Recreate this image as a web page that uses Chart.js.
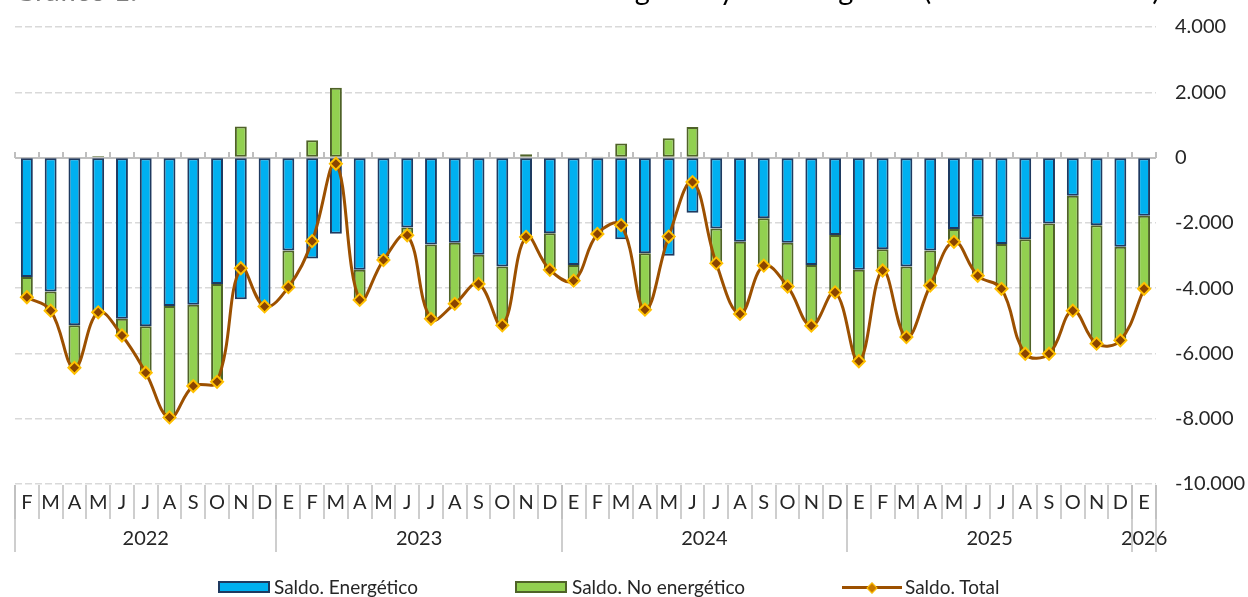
<!DOCTYPE html>
<html>
<head>
<meta charset="utf-8">
<script src="https://cdn.jsdelivr.net/npm/chart.js@4/dist/chart.umd.min.js"></script>
<style>
  html, body { margin: 0; padding: 0; background: #fff; }
  #wrap { position: relative; width: 1248px; height: 597px; overflow: hidden; font-family: Lato, sans-serif; color: #262626; }
  #chart { position: absolute; left: 0; top: 0; }
  .title { position: absolute; font-size: 29px; line-height: 29px; white-space: nowrap; }
  .title.num { left: 14px; top: -25px; color: #7f7f7f; }
  .title.txt { right: 88px; top: -26px; color: #000; }
  .leg { position: absolute; top: 577px; font-size: 19px; line-height: 20px; white-space: nowrap; }
  .box { position: absolute; top: 581px; width: 52px; height: 12px; box-sizing: border-box; }
  .lline { position: absolute; left: 842px; top: 586px; width: 60px; height: 3px; background: #9c5000; }
  .ldia { position: absolute; left: 868px; top: 584px; width: 6px; height: 6px; background: #c77800; border: 1.5px solid #ffc000; transform: rotate(45deg); }
</style>
</head>
<body>
<div id="wrap">
  <canvas id="chart" width="1248" height="597"></canvas>
  <div class="title num">Gráfico 1.</div>
  <div class="title txt">Saldo comercial energético y no energético (millones de euros)</div>
  <div class="box" style="left:218px;background:#00b0f0;border:2px solid #1f3a60"></div>
  <div class="leg" style="left:274px">Saldo. Energético</div>
  <div class="box" style="left:515px;background:#92d050;border:2px solid #4f6228"></div>
  <div class="leg" style="left:572px">Saldo. No energético</div>
  <div class="lline"></div><div class="ldia"></div>
  <div class="leg" style="left:905px">Saldo. Total</div>
</div>
<script>
const months = [
  'F','M','A','M','J','J','A','S','O','N','D',
  'E','F','M','A','M','J','J','A','S','O','N','D',
  'E','F','M','A','M','J','J','A','S','O','N','D',
  'E','F','M','A','M','J','J','A','S','O','N','D',
  'E'
];
const yearLabels = ['2022', '2023', '2024', '2025', '2026'];
const yearMonths = [11, 12, 12, 12, 1];

const energetico = [
  -3660, -4100, -5140, -4790, -4940, -5170, -4550, -4510, -3870, -4340, -4530,
  -2850, -3090, -2330, -3440, -3030, -2140, -2660, -2610, -2980, -3340, -2530, -2320,
  -3290, -2370, -2500, -2930, -3010, -1690, -2170, -2580, -1860, -2610, -3290, -2370,
  -3440, -2810, -3340, -2850, -2190, -1810, -2650, -2500, -2020, -1170, -2070, -2730,
  -1780
];
const noEnergetico = [
  -620, -590, -1300, 50, -510, -1420, -3410, -2490, -3000, 950, -30,
  -1120, 530, 2140, -920, -110, -240, -2280, -1870, -890, -1800, 100, -1120,
  -480, 30, 430, -1730, 590, 940, -1070, -2210, -1450, -1340, -1860, -1760,
  -2800, -650, -2160, -1070, -390, -1810, -1370, -3510, -3990, -3520, -3630, -2870,
  -2240
];
const total = [
  -4280, -4690, -6440, -4740, -5450, -6590, -7960, -7000, -6870, -3390, -4560,
  -3970, -2560, -190, -4360, -3140, -2380, -4940, -4480, -3870, -5140, -2430, -3440,
  -3770, -2340, -2070, -4660, -2420, -750, -3240, -4790, -3310, -3950, -5150, -4130,
  -6240, -3460, -5500, -3920, -2580, -3620, -4020, -6010, -6010, -4690, -5700, -5600,
  -4020
];

const fmt = v => (v < 0 ? '-' : '') + String(Math.abs(v)).replace(/\B(?=(\d{3})+(?!\d))/g, '.');

const excelAxis = {
  id: 'excelAxis',
  beforeDatasetsDraw(chart) {
    const {ctx, chartArea: a, scales: {x, y}} = chart;
    const y0 = Math.round(y.getPixelForValue(0));
    const step = x.getPixelForValue(1) - x.getPixelForValue(0);
    const start = x.getPixelForValue(0) - step / 2;
    ctx.save();
    ctx.strokeStyle = '#bfbfbf';
    ctx.lineWidth = 2;
    ctx.beginPath();
    ctx.moveTo(a.left, y0);
    ctx.lineTo(a.right, y0);
    for (let i = 0; i <= months.length; i++) {
      const bx = Math.round(start + i * step);
      ctx.moveTo(bx, y0);
      ctx.lineTo(bx, y0 - 6);
    }
    ctx.stroke();
    ctx.restore();
  },
  afterDraw(chart) {
    const {ctx, chartArea: a, scales: {x}} = chart;
    const step = x.getPixelForValue(1) - x.getPixelForValue(0);
    const start = x.getPixelForValue(0) - step / 2;
    const top = a.bottom + 1;
    ctx.save();
    ctx.strokeStyle = '#bfbfbf';
    ctx.lineWidth = 1.5;
    ctx.fillStyle = '#262626';
    ctx.font = '20px Lato';
    ctx.textAlign = 'center';
    ctx.textBaseline = 'middle';
    ctx.beginPath();
    for (let i = 0; i <= months.length; i++) {
      const bx = Math.round(start + i * step);
      ctx.moveTo(bx, top);
      ctx.lineTo(bx, top + 34);
    }
    ctx.stroke();
    months.forEach((m, i) => ctx.fillText(m, x.getPixelForValue(i), top + 18));

    let idx = 0;
    ctx.beginPath();
    yearLabels.forEach((yr, k) => {
      const x1 = start + idx * step;
      const x2 = start + (idx + yearMonths[k]) * step;
      ctx.moveTo(Math.round(x1), top);
      ctx.lineTo(Math.round(x1), top + 67);
      if (k === yearLabels.length - 1) {
        ctx.moveTo(Math.round(x2), top);
        ctx.lineTo(Math.round(x2), top + 67);
      }
      ctx.fillText(yr, (x1 + x2) / 2, top + 54);
      idx += yearMonths[k];
    });
    ctx.stroke();
    ctx.restore();
  }
};

new Chart(document.getElementById('chart'), {
  data: {
    labels: months,
    datasets: [
      {
        type: 'line',
        label: 'Saldo. Total',
        data: total,
        stack: 'total',
        order: 0,
        borderColor: '#9c5000',
        borderWidth: 3,
        tension: 0.4,
        fill: false,
        pointStyle: 'rectRot',
        pointRadius: 6,
        pointBackgroundColor: '#8b4500',
        pointBorderColor: '#ffc000',
        pointBorderWidth: 2
      },
      {
        type: 'bar',
        label: 'Saldo. Energético',
        data: energetico,
        stack: 'saldo',
        order: 1,
        backgroundColor: '#00b0f0',
        borderColor: '#1f3a60',
        borderWidth: 2,
        borderSkipped: false,
        barPercentage: 0.5,
        categoryPercentage: 1
      },
      {
        type: 'bar',
        label: 'Saldo. No energético',
        data: noEnergetico,
        stack: 'saldo',
        order: 1,
        backgroundColor: '#92d050',
        borderColor: '#4f6228',
        borderWidth: 2,
        borderSkipped: false,
        barPercentage: 0.5,
        categoryPercentage: 1
      }
    ]
  },
  options: {
    responsive: false,
    animation: false,
    layout: { padding: { left: 15, top: 27, right: 0, bottom: 0 } },
    plugins: { legend: { display: false }, tooltip: { enabled: false } },
    scales: {
      x: {
        stacked: true,
        offset: true,
        grid: { display: false },
        border: { display: false },
        ticks: { display: false },
        afterFit: s => { s.height = 113; }
      },
      y: {
        stacked: true,
        position: 'right',
        min: -10000,
        max: 4000,
        ticks: {
          stepSize: 2000,
          padding: 0,
          color: '#262626',
          font: { family: 'Lato', size: 20 },
          callback: v => fmt(v)
        },
        grid: {
          drawTicks: true,
          tickLength: 19,
          tickColor: 'rgba(0,0,0,0)',
          lineWidth: 1.5,
          color: c => (c.tick && c.tick.value === 0 ? 'rgba(0,0,0,0)' : '#d9d9d9')
        },
        border: { display: false, dash: [7, 3] },
        afterFit: s => { s.width = 92; }
      }
    }
  },
  plugins: [excelAxis]
});
</script>
</body>
</html>
